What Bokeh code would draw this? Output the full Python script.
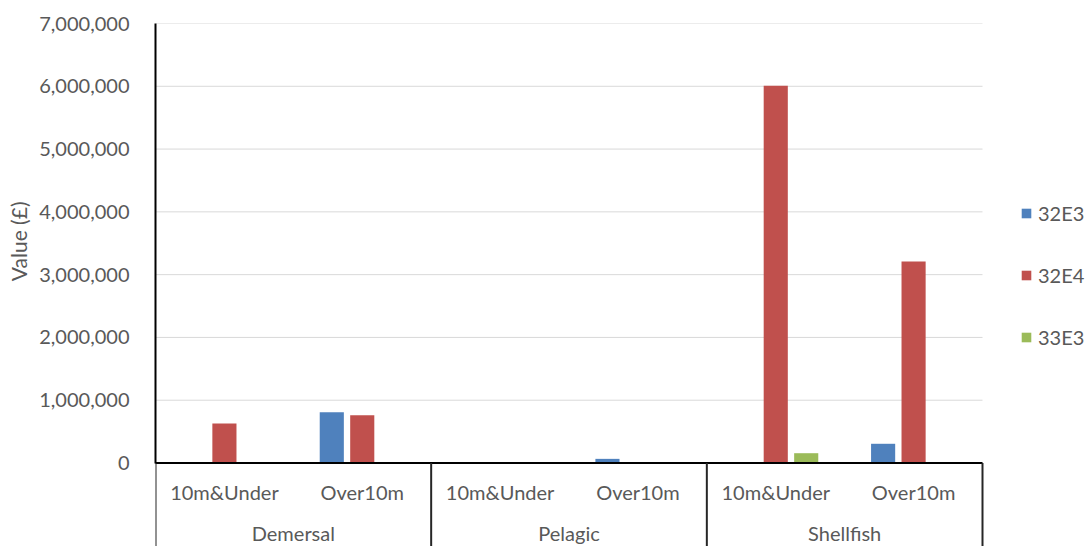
from bokeh.plotting import figure
from bokeh.models import (ColumnDataSource, Range1d, FixedTicker,
                          NumeralTickFormatter, Legend, LegendItem, Title)
from bokeh.core.properties import value
from bokeh.embed import file_html
from bokeh.resources import INLINE

# ---- data ----
groups = ["Demersal", "Pelagic", "Shellfish"]
vessel_classes = ["10m&Under", "Over10m"]
series_names = ["32E3", "32E4", "33E3"]
values_32E3 = [0, 810000, 0, 66000, 0, 306000]
values_32E4 = [628000, 760000, 0, 0, 6010000, 3210000]
values_33E3 = [0, 0, 0, 0, 156000, 15000]
y_ticks = [0, 1000000, 2000000, 3000000, 4000000, 5000000, 6000000, 7000000]
y_label = "Value (£)"

# ---- style ----
FONT = "Lato"
TEXT = "#595959"
COLORS = ["#4F81BD", "#C0504D", "#9BBB59"]
FS = "20px"
W, H = 1089, 546
FRAME_LEFT, PLOT_RIGHT, FRAME_TOP = 155, 982, 23

# category slots: one unit per (group, vessel class)
n_cat = len(groups) * len(vessel_classes)
cat_x = [i + 0.5 for i in range(n_cat)]
cat_sub = [c for _ in groups for c in vessel_classes]
grp_x = [g * len(vessel_classes) + len(vessel_classes) / 2 for g in range(len(groups))]
bounds_x = [0] + [(g + 1) * len(vessel_classes) for g in range(len(groups))]

Y_MAX = y_ticks[-1]
# frame spans the value area (439.5px) plus the category table below it (83.5px)
y_start = -Y_MAX * 83.5 / 439.5
x_end = n_cat * (W - FRAME_LEFT) / (PLOT_RIGHT - FRAME_LEFT)

p = figure(width=W, height=H, x_range=Range1d(0, x_end), y_range=Range1d(y_start, Y_MAX),
           x_axis_location=None, output_backend="svg", toolbar_location=None,
           min_border_left=FRAME_LEFT, min_border_right=0, min_border_top=FRAME_TOP,
           min_border_bottom=0)
p.outline_line_color = None
p.background_fill_color = "white"
p.border_fill_color = "white"
p.grid.visible = False

# y axis
ax = p.yaxis[0]
ax.bounds = (0, Y_MAX)
ax.ticker = FixedTicker(ticks=y_ticks)
ax.formatter = NumeralTickFormatter(format="0,0")
ax.major_tick_line_color = None
ax.minor_tick_line_color = None
ax.major_label_standoff = 20
ax.major_label_text_font = FONT
ax.major_label_text_font_size = FS
ax.major_label_text_color = TEXT
ax.axis_line_color = "black"
ax.axis_line_width = 2

# y axis title, centred on the value area rather than the whole frame
p.add_layout(Title(text=y_label, align="right", offset=178, vertical_align="middle",
                   standoff=9, text_font=FONT, text_font_size="21px",
                   text_font_style="normal", text_color=TEXT), "left")

# horizontal gridlines over the category slots
p.segment(x0=[0] * len(y_ticks), x1=[n_cat] * len(y_ticks), y0=y_ticks, y1=y_ticks,
          line_color="#D9D9D9", line_width=1, level="underlay")

# bars
source = ColumnDataSource(dict(x=cat_x, s0=values_32E3, s1=values_32E4, s2=values_33E3))
offsets = [-0.221, 0.0, 0.221]
renderers = []
for i, col in enumerate(["s0", "s1", "s2"]):
    r = p.vbar(x=[cx + offsets[i] for cx in cat_x], top=source.data[col], width=0.175,
               fill_color=COLORS[i], line_color=None)
    renderers.append(r)

# category axis line and table borders
p.segment(x0=[0], x1=[n_cat], y0=[0], y1=[0], line_color="black", line_width=2)
p.segment(x0=bounds_x, x1=bounds_x, y0=[y_start] * len(bounds_x), y1=[0] * len(bounds_x),
          line_color="#262626", line_width=2)

# category labels
p.text(x=cat_x, y=[0] * n_cat, text=cat_sub, y_offset=28.5,
       text_align="center", text_baseline="middle",
       text_font=value(FONT), text_font_size=FS, text_color=TEXT)
p.text(x=grp_x, y=[0] * len(groups), text=groups, y_offset=70,
       text_align="center", text_baseline="middle",
       text_font=value(FONT), text_font_size=FS, text_color=TEXT)

legend = Legend(items=[LegendItem(label=n, renderers=[r]) for n, r in zip(series_names, renderers)],
                location=(865, 197), orientation="vertical",
                border_line_color=None, background_fill_alpha=0,
                padding=0, margin=0, spacing=38,
                glyph_width=12, glyph_height=12, label_standoff=6, label_height=20,
                label_text_font=FONT, label_text_font_size=FS, label_text_color=TEXT)
p.add_layout(legend)

open("out.html", "w").write(file_html(p, INLINE))
